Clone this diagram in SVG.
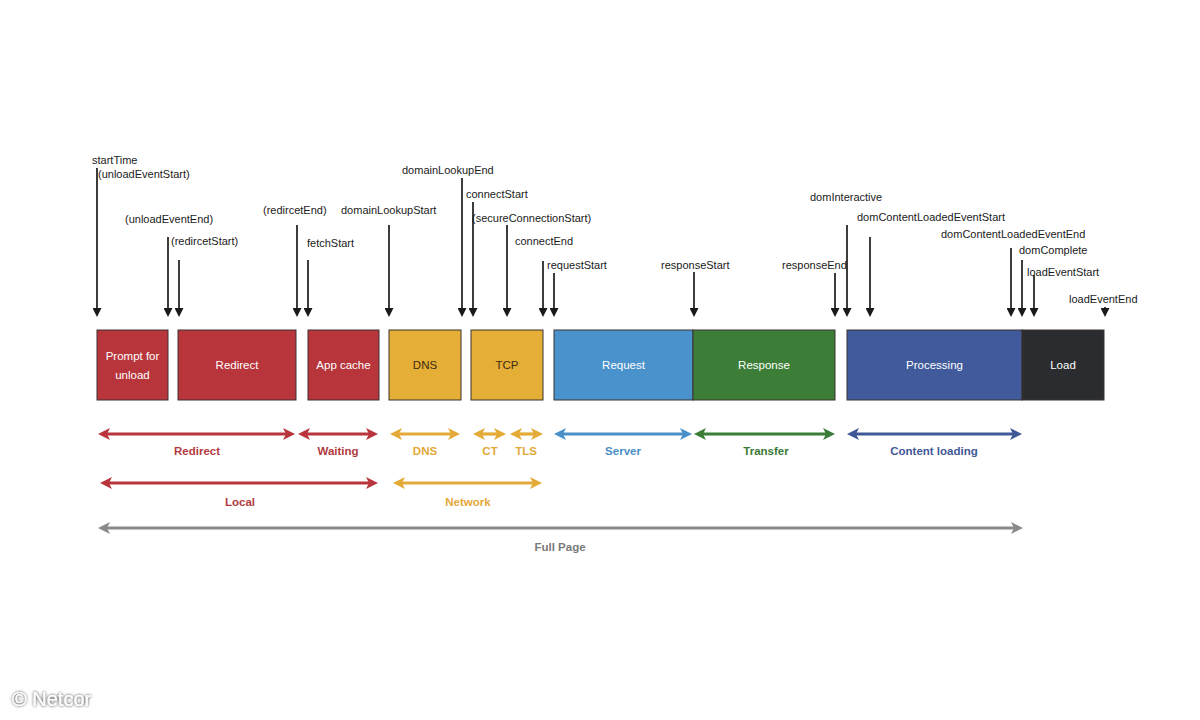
<svg xmlns="http://www.w3.org/2000/svg" width="1200" height="720" viewBox="0 0 1200 720">
<style>
.ev{font-family:"Liberation Sans",Arial,sans-serif;font-size:11px;fill:#1a1a1a}
.bx{font-family:"Liberation Sans",Arial,sans-serif;font-size:11.5px;fill:#fff;text-anchor:middle}
.lb{font-family:"Liberation Sans",Arial,sans-serif;font-size:11.5px;font-weight:bold;text-anchor:middle}
.tick{stroke:#1a1a1a;stroke-width:1.7;fill:none}
.span{stroke-width:3.2;fill:none}
.box{stroke:#3a3230;stroke-width:1}
</style>
<defs>
<marker id="down" viewBox="0 0 10 10" refX="0" refY="5" markerWidth="9" markerHeight="9" markerUnits="userSpaceOnUse" orient="auto"><path d="M0,0 L10,5 L0,10 z" fill="#1a1a1a"/></marker>
<marker id="hr" viewBox="0 0 12 12" refX="3" refY="6" markerWidth="12" markerHeight="12" markerUnits="userSpaceOnUse" orient="auto-start-reverse"><path d="M0,0 L12,6 L0,12 L3,6 z" fill="#b8353c"/></marker>
<marker id="hy" viewBox="0 0 12 12" refX="3" refY="6" markerWidth="12" markerHeight="12" markerUnits="userSpaceOnUse" orient="auto-start-reverse"><path d="M0,0 L12,6 L0,12 L3,6 z" fill="#e3aa38"/></marker>
<marker id="hb" viewBox="0 0 12 12" refX="3" refY="6" markerWidth="12" markerHeight="12" markerUnits="userSpaceOnUse" orient="auto-start-reverse"><path d="M0,0 L12,6 L0,12 L3,6 z" fill="#4a90c8"/></marker>
<marker id="hg" viewBox="0 0 12 12" refX="3" refY="6" markerWidth="12" markerHeight="12" markerUnits="userSpaceOnUse" orient="auto-start-reverse"><path d="M0,0 L12,6 L0,12 L3,6 z" fill="#3a7d36"/></marker>
<marker id="hd" viewBox="0 0 12 12" refX="3" refY="6" markerWidth="12" markerHeight="12" markerUnits="userSpaceOnUse" orient="auto-start-reverse"><path d="M0,0 L12,6 L0,12 L3,6 z" fill="#3f5897"/></marker>
<marker id="hk" viewBox="0 0 12 12" refX="3" refY="6" markerWidth="12" markerHeight="12" markerUnits="userSpaceOnUse" orient="auto-start-reverse"><path d="M0,0 L12,6 L0,12 L3,6 z" fill="#8a8a8a"/></marker>
<filter id="glow" x="-10%" y="-30%" width="120%" height="160%"><feGaussianBlur in="SourceAlpha" stdDeviation="1.6"/><feComponentTransfer><feFuncA type="linear" slope="0.9"/></feComponentTransfer><feMerge><feMergeNode/><feMergeNode in="SourceGraphic"/></feMerge></filter>
</defs>
<rect width="1200" height="720" fill="#fff"/>

<g id="nodes">
<g id="n-prompt"><rect class="box" x="97" y="330" width="71" height="70" fill="#b8353c"/><text class="bx" x="132.5" y="360">Prompt for</text><text class="bx" x="132.5" y="379">unload</text></g>
<g id="n-redirect"><rect class="box" x="178" y="330" width="118" height="70" fill="#b8353c"/><text class="bx" x="237" y="369">Redirect</text></g>
<g id="n-appcache"><rect class="box" x="308" y="330" width="71" height="70" fill="#b8353c"/><text class="bx" x="343.5" y="369">App cache</text></g>
<g id="n-dns"><rect class="box" x="389" y="330" width="72" height="70" fill="#e5ae37"/><text class="bx" x="425" y="369" style="fill:#3a2c12">DNS</text></g>
<g id="n-tcp"><rect class="box" x="471" y="330" width="72" height="70" fill="#e5ae37"/><text class="bx" x="507" y="369" style="fill:#3a2c12">TCP</text></g>
<g id="n-request"><rect class="box" x="554" y="330" width="139" height="70" fill="#4a92cb" stroke="#2a2a2a"/><text class="bx" x="623.5" y="369">Request</text></g>
<g id="n-response"><rect class="box" x="693" y="330" width="142" height="70" fill="#3c7e37" stroke="#2a2a2a"/><text class="bx" x="764" y="369">Response</text></g>
<g id="n-processing"><rect class="box" x="847" y="330" width="175" height="70" fill="#405a9c" stroke="#2a2a2a"/><text class="bx" x="934.5" y="369">Processing</text></g>
<g id="n-load"><rect class="box" x="1022" y="330" width="82" height="70" fill="#2a2c2f" stroke="#2a2a2a"/><text class="bx" x="1063" y="369">Load</text></g>
</g>

<g id="connectors">
<g id="ticks" marker-end="url(#down)">
<path class="tick" d="M97,168 V308"/>
<path class="tick" d="M168,237 V308"/>
<path class="tick" d="M179,260 V308"/>
<path class="tick" d="M297,225 V308"/>
<path class="tick" d="M308,260 V308"/>
<path class="tick" d="M389,225 V308"/>
<path class="tick" d="M462,178 V308"/>
<path class="tick" d="M473,202 V308"/>
<path class="tick" d="M507,225 V308"/>
<path class="tick" d="M543,261 V308"/>
<path class="tick" d="M554,273 V308"/>
<path class="tick" d="M694,272 V308"/>
<path class="tick" d="M835,273 V308"/>
<path class="tick" d="M847,225 V308"/>
<path class="tick" d="M870,237 V308"/>
<path class="tick" d="M1011,248 V308"/>
<path class="tick" d="M1022,260 V308"/>
<path class="tick" d="M1034,275 V308"/>
<path class="tick" d="M1105,307 V308"/>
</g>
<g id="spans">
<path class="span" stroke="#b8353c" marker-start="url(#hr)" marker-end="url(#hr)" d="M107,434 H286"/>
<path class="span" stroke="#b8353c" marker-start="url(#hr)" marker-end="url(#hr)" d="M307,434 H369"/>
<path class="span" stroke="#e3aa38" marker-start="url(#hy)" marker-end="url(#hy)" d="M399,434 H451"/>
<path class="span" stroke="#e3aa38" marker-start="url(#hy)" marker-end="url(#hy)" d="M482,434 H497"/>
<path class="span" stroke="#e3aa38" marker-start="url(#hy)" marker-end="url(#hy)" d="M519,434 H534"/>
<path class="span" stroke="#4a90c8" marker-start="url(#hb)" marker-end="url(#hb)" d="M563,434 H683"/>
<path class="span" stroke="#3a7d36" marker-start="url(#hg)" marker-end="url(#hg)" d="M703,434 H826"/>
<path class="span" stroke="#3f5897" marker-start="url(#hd)" marker-end="url(#hd)" d="M856,434 H1013"/>
<path class="span" stroke="#b8353c" marker-start="url(#hr)" marker-end="url(#hr)" d="M109,483 H369"/>
<path class="span" stroke="#e3aa38" marker-start="url(#hy)" marker-end="url(#hy)" d="M402,483 H533"/>
<path class="span" stroke="#8a8a8a" marker-start="url(#hk)" marker-end="url(#hk)" d="M107,528 H1014"/>
</g>
</g>

<g id="event-labels">
<text class="ev" x="92" y="164">startTime</text>
<text class="ev" x="98" y="178">(unloadEventStart)</text>
<text class="ev" x="125" y="223">(unloadEventEnd)</text>
<text class="ev" x="171" y="245">(redircetStart)</text>
<text class="ev" x="263" y="214">(redircetEnd)</text>
<text class="ev" x="307" y="247">fetchStart</text>
<text class="ev" x="341" y="214">domainLookupStart</text>
<text class="ev" x="402" y="174">domainLookupEnd</text>
<text class="ev" x="466" y="198">connectStart</text>
<text class="ev" x="472" y="222">(secureConnectionStart)</text>
<text class="ev" x="515" y="245">connectEnd</text>
<text class="ev" x="547" y="269">requestStart</text>
<text class="ev" x="661" y="269">responseStart</text>
<text class="ev" x="782" y="269">responseEnd</text>
<text class="ev" x="810" y="201">domInteractive</text>
<text class="ev" x="857" y="221">domContentLoadedEventStart</text>
<text class="ev" x="941" y="238">domContentLoadedEventEnd</text>
<text class="ev" x="1019" y="254">domComplete</text>
<text class="ev" x="1027" y="276">loadEventStart</text>
<text class="ev" x="1069" y="303">loadEventEnd</text>
</g>

<g id="span-labels">
<text class="lb" x="197" y="455" fill="#b23a3e">Redirect</text>
<text class="lb" x="338" y="455" fill="#b23a3e">Waiting</text>
<text class="lb" x="425" y="455" fill="#e2a93a">DNS</text>
<text class="lb" x="490" y="455" fill="#e2a93a">CT</text>
<text class="lb" x="526" y="455" fill="#e2a93a">TLS</text>
<text class="lb" x="623" y="455" fill="#4a8fc6">Server</text>
<text class="lb" x="766" y="455" fill="#3a7a35">Transfer</text>
<text class="lb" x="934" y="455" fill="#3f5896">Content loading</text>
<text class="lb" x="240" y="506" fill="#b23a3e">Local</text>
<text class="lb" x="468" y="506" fill="#e2a93a">Network</text>
<text class="lb" x="560" y="551" fill="#7a7a7a">Full Page</text>
</g>

<text x="12" y="706" font-family="Liberation Sans, Arial, sans-serif" font-size="20" fill="#fff" filter="url(#glow)">© Netcor</text>
</svg>
